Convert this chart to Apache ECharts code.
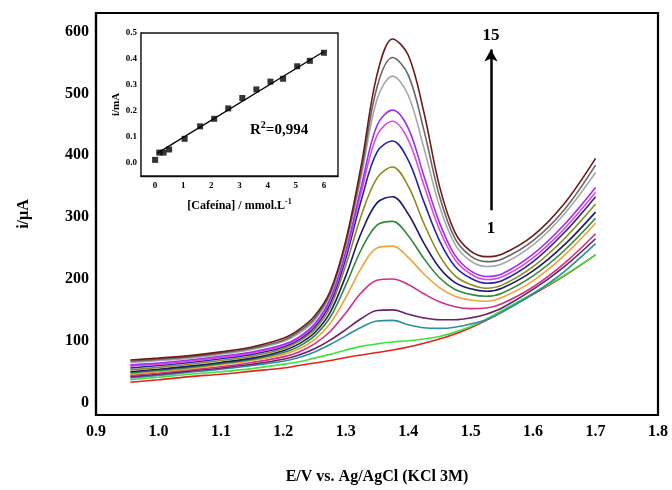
<!DOCTYPE html>
<html><head><meta charset="utf-8">
<script src="https://cdn.jsdelivr.net/npm/echarts@6/dist/echarts.min.js"></script>
<style>html,body{margin:0;padding:0;background:#fff}#c{width:672px;height:490px}</style>
</head><body><div id="c"></div>
<script>
// Potential grid (V vs Ag/AgCl)
const potentials = [0.955,1.0,1.05,1.1,1.15,1.2,1.225,1.25,1.275,1.3,1.325,1.35,1.375,1.4,1.425,1.45,1.475,1.5,1.525,1.55,1.6,1.65,1.7];
// Currents (µA), curve 1 (lowest) to 15 (highest)
const curve1  = [33,37,42,46,51,56,60,64,68,73,77,81,85,90,96,103,111,121,133,147,175,205,239];
const curve2  = [37,41,46,50,55,62,66,72,78,85,91,95,98,100,103,107,114,123,135,149,177,206,239];
const curve3  = [40,44,49,54,60,67,73,82,94,108,122,132,133,126,121,120,122,127,134,146,176,212,257];
const curve4  = [42,46,51,56,62,70,77,87,101,118,136,149,150,143,137,134,134,137,143,153,183,220,265];
const curve5  = [44,48,53,58,65,74,82,95,115,145,178,198,200,191,176,163,155,152,153,160,187,225,273];
const curve6  = [46,50,55,61,68,78,87,102,128,170,218,250,253,235,208,186,172,166,164,170,197,238,290];
const curve7  = [48,52,57,63,70,81,91,108,138,190,248,287,293,270,233,202,183,175,172,177,205,246,298];
const curve8  = [50,54,59,65,72,84,95,113,146,205,275,323,333,305,258,218,194,184,180,185,213,255,308];
const curve9  = [53,57,62,68,75,87,99,118,154,222,303,363,381,350,290,238,205,191,185,190,220,265,321];
const curve10 = [56,60,65,71,78,90,102,122,160,233,328,405,423,392,325,262,220,201,193,197,228,275,333];
const curve11 = [59,62,67,73,80,92,104,125,165,240,341,432,455,425,352,280,231,208,199,203,234,281,340];
const curve12 = [61,64,69,75,82,94,106,127,168,245,350,448,473,444,367,291,238,213,204,208,240,288,348];
const curve13 = [65,68,72,78,86,99,112,133,174,254,366,490,528,497,412,318,256,229,220,224,255,305,372];
const curve14 = [67,70,74,80,88,101,115,136,177,258,375,510,558,530,441,334,265,237,228,232,262,312,384];
const curve15 = [69,72,76,82,90,104,118,140,180,262,385,530,588,562,470,350,275,245,236,240,270,322,395];
const curves = [curve1,curve2,curve3,curve4,curve5,curve6,curve7,curve8,curve9,curve10,curve11,curve12,curve13,curve14,curve15];
const curveColors = ['#e3241b','#3fe23f','#2b8f9c','#6b1f6e','#cf2f86','#efa23e','#2f8a3c','#1b1b6b','#8c8a22','#2424a8','#e646e0','#9b2ff2','#a8a8a8','#676767','#6e1a18'];
// Main axis tick labels
const xTicks = [0.9,1.0,1.1,1.2,1.3,1.4,1.5,1.6,1.7,1.8];
const yTicks = [0,100,200,300,400,500,600];
// Inset calibration
const concentration = [0,0.15,0.3,0.5,1.05,1.6,2.1,2.6,3.1,3.6,4.1,4.55,5.05,5.5,6.0];
const insetCurrent = [0.012,0.04,0.04,0.052,0.093,0.141,0.17,0.21,0.25,0.283,0.313,0.324,0.372,0.393,0.424];
const fitLine = [[0.07,0.037],[6.0,0.429]];
const insetXTicks = [0,1,2,3,4,5,6];
const insetYTicks = [0.0,0.1,0.2,0.3,0.4,0.5];
// Arrow annotation (data coords)
const arrowE = 1.5325, arrowFrom = 311, arrowTo = 571;
const arrowLabels = [[1.5325,594,'15'],[1.5325,281,'1']];

const F = 'Liberation Serif, Times New Roman, serif';
const chart = echarts.init(document.getElementById('c'));
const series = curves.map((v,i)=>({
  type:'line', xAxisIndex:0, yAxisIndex:0, showSymbol:false, smooth:0.35,
  data: potentials.map((e,j)=>[e,v[j]]),
  lineStyle:{color:curveColors[i], width:1.6}, itemStyle:{color:curveColors[i]}, silent:true, z:2
}));
series.push({
  type:'line', xAxisIndex:0, yAxisIndex:0, data:[], silent:true,
  markLine:{silent:true, symbol:['none','arrow'], symbolSize:[10,12], label:{show:false},
    lineStyle:{color:'#000', width:2.5, type:'solid'},
    data:[[{coord:[arrowE,arrowFrom]},{coord:[arrowE,arrowTo]}]]}
});
series.push({type:'line', xAxisIndex:1, yAxisIndex:1, data:fitLine, showSymbol:false, lineStyle:{color:'#000', width:1.3}, z:5});
series.push({type:'scatter', xAxisIndex:1, yAxisIndex:1, data:concentration.map((c,i)=>[c,insetCurrent[i]]), symbol:'rect', symbolSize:6, itemStyle:{color:'#000'}, z:6});

chart.setOption({
  animation:false,
  backgroundColor:'#fff',
  grid:[
    {left:96, top:13, width:562, height:407, show:true, borderColor:'#000', borderWidth:2.2, backgroundColor:'transparent'},
    {left:141, top:33, width:197, height:143, show:true, borderColor:'#111', borderWidth:1.4, backgroundColor:'#fff', z:3}
  ],
  xAxis:[
    {type:'value', gridIndex:0, min:0.9, max:1.8, splitLine:{show:false}, axisTick:{show:false},
     axisLine:{show:true, onZero:false, lineStyle:{color:'#000', width:2.2}},
     axisLabel:{customValues:xTicks, formatter:v=>v.toFixed(1), fontFamily:F, fontWeight:'bold', fontSize:16, color:'#000', margin:9},
     name:'E/V vs. Ag/AgCl (KCl 3M)', nameLocation:'middle', nameGap:54, nameTextStyle:{fontFamily:F, fontWeight:'bold', fontSize:16, color:'#000'}},
    {type:'value', gridIndex:1, min:-0.5, max:6.5, splitLine:{show:false}, axisTick:{show:false},
     axisLine:{show:true, onZero:false, lineStyle:{color:'#111', width:1.4}},
     axisLabel:{customValues:insetXTicks, fontFamily:F, fontWeight:'bold', fontSize:9, color:'#000', margin:5},
     name:'[Cafeína] / mmol.L{s|-1}', nameLocation:'middle', nameGap:22,
     nameTextStyle:{fontFamily:F, fontWeight:'bold', fontSize:12, color:'#000', rich:{s:{fontFamily:F, fontWeight:'bold', fontSize:8, verticalAlign:'top', padding:[0,0,8,0]}}}}
  ],
  yAxis:[
    {type:'value', gridIndex:0, min:-20, max:630, splitLine:{show:false}, axisTick:{show:false},
     axisLine:{show:true, onZero:false, lineStyle:{color:'#000', width:2.2}},
     axisLabel:{customValues:yTicks, fontFamily:F, fontWeight:'bold', fontSize:16, color:'#000', margin:7},
     name:'i/µA', nameLocation:'middle', nameGap:64, nameRotate:90, nameTextStyle:{fontFamily:F, fontWeight:'bold', fontSize:16, color:'#000'}},
    {type:'value', gridIndex:1, min:-0.05, max:0.5, splitLine:{show:false}, axisTick:{show:false},
     axisLine:{show:true, onZero:false, lineStyle:{color:'#111', width:1.4}},
     axisLabel:{customValues:insetYTicks, formatter:v=>v.toFixed(1), fontFamily:F, fontWeight:'bold', fontSize:9, color:'#000', margin:4},
     name:'i/mA', nameLocation:'middle', nameGap:19, nameRotate:90, nameTextStyle:{fontFamily:F, fontWeight:'bold', fontSize:11, color:'#000'}}
  ],
  series
});
const graphics = [{type:'text', left:250, top:120, z:10, style:{
    text:'{a|R}{b|2}{a|=0,994}', rich:{a:{fontFamily:F, fontWeight:'bold', fontSize:15, fill:'#000'}, b:{fontFamily:F, fontWeight:'bold', fontSize:10, fill:'#000', verticalAlign:'top', padding:[0,0,10,0]}}}}];
arrowLabels.forEach(a=>{
  const p = chart.convertToPixel({gridIndex:0}, [a[0], a[1]]);
  graphics.push({type:'text', x:p[0], y:p[1], z:10, style:{text:a[2], fill:'#000', font:'bold 17px '+F, align:'center', verticalAlign:'middle'}});
});
chart.setOption({graphic:graphics});
</script></body></html>
